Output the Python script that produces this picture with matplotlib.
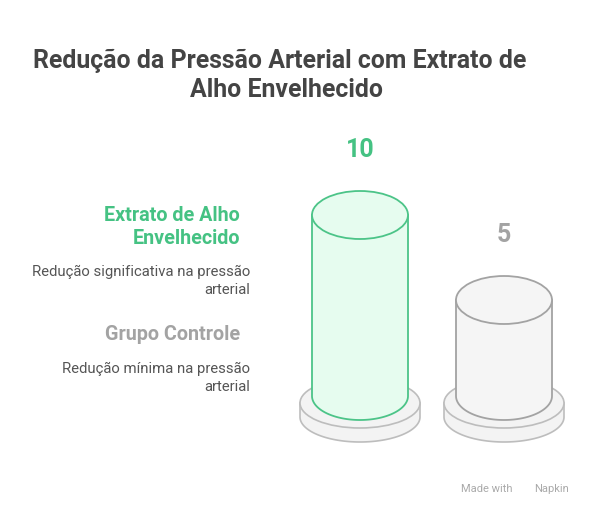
import matplotlib
matplotlib.use("Agg")
import matplotlib.pyplot as plt
from matplotlib.patches import Ellipse, Polygon
import numpy as np

plt.rcParams['font.family'] = ['Roboto', 'DejaVu Sans']

# data
categories = ["Extrato de Alho\nEnvelhecido", "Grupo Controle"]
descriptions = ["Redução significativa na pressão\narterial", "Redução mínima na pressão\narterial"]
values = [10, 5]
title = "Redução da Pressão Arterial com Extrato de\nAlho Envelhecido"

edge_colors = ["#4cc488", "#a3a3a3"]
face_colors = ["#e6fcef", "#f5f5f5"]
label_colors = ["#45c283", "#a3a3a3"]


def draw_cylinder(ax, cx, cy, rx, ry, h, face, edge, lw=1.3, z=2):
    """body + top ellipse, cy is bottom ellipse centre (y grows down)"""
    top = cy - h
    t = np.linspace(np.pi, 0, 80)
    pts = [(cx - rx, top)]
    pts += list(zip(cx + rx * np.cos(t), cy + ry * np.sin(t)))
    pts += [(cx + rx, top)]
    ax.add_patch(Polygon(pts, closed=True, facecolor=face, edgecolor=edge, lw=lw, zorder=z))
    ax.add_patch(Ellipse((cx, top), 2 * rx, 2 * ry, facecolor=face, edgecolor=edge, lw=lw, zorder=z + 0.1))


fig = plt.figure(figsize=(5.94, 5.16), dpi=100)
ax = fig.add_axes([0, 0, 1, 1])
ax.set_xlim(0, 594)
ax.set_ylim(516, 0)
ax.axis("off")

title_lines = title.split("\n")
ax.text(280, 61, title_lines[0], ha="center", va="center",
        fontsize=17.9, fontweight="bold", color="#444444")
ax.text(287, 90, title_lines[1], ha="center", va="center",
        fontsize=17.9, fontweight="bold", color="#444444")

centers = [360, 504]
base_y = 396
for i, v in enumerate(values):
    cx = centers[i]
    # base disc
    draw_cylinder(ax, cx, 417, 60, 25, 14, "#f3f3f3", "#bdbdbd", lw=1.2, z=1)
    h = 11 + 17 * v
    draw_cylinder(ax, cx, base_y, 48, 24, h, face_colors[i], edge_colors[i], z=3)
    ax.text(cx, base_y - h - 65, str(v), ha="center", va="center", fontsize=18,
            fontweight="bold", color=label_colors[i])

# legend text on the left
label_y = [227, 335]
desc_y = [281, 378]
for i in range(len(categories)):
    ax.text(240, label_y[i], categories[i], ha="right", va="center", fontsize=14.2,
            fontweight="bold", color=label_colors[i], linespacing=1.3)
    ax.text(250, desc_y[i], descriptions[i], ha="right", va="center", fontsize=10.7,
            color="#555555", linespacing=1.3)

ax.text(461, 489, "Made with", ha="left", va="center", fontsize=8, color="#aaaaaa")
ax.text(534, 489, "Napkin", ha="left", va="center", fontsize=8, color="#aaaaaa")

fig.savefig("out.png", dpi=100)
